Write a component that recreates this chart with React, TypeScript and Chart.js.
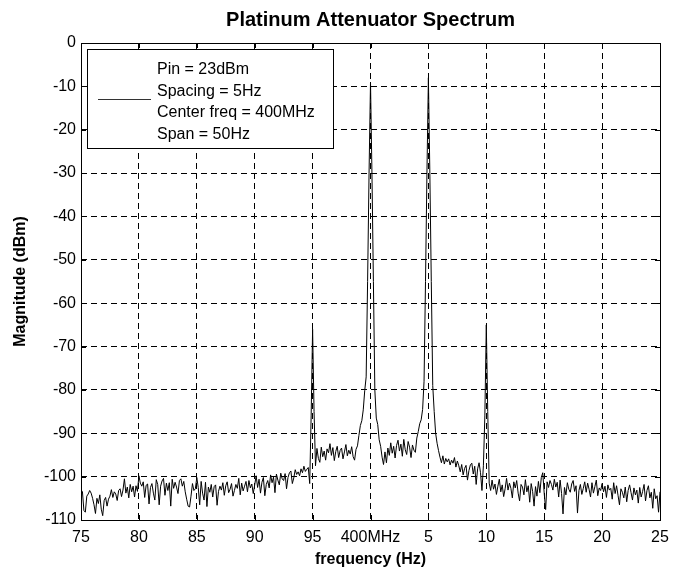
import React, { useEffect, useRef } from "react";
import { Chart, registerables } from "chart.js";

Chart.register(...registerables);

const chartTitle = "Platinum Attenuator Spectrum";
const xAxisTitle = "frequency (Hz)";
const yAxisTitle = "Magnitude (dBm)";
const legendLines = ["Pin = 23dBm", "Spacing = 5Hz", "Center freq = 400MHz", "Span = 50Hz"];

// Frequency offset ticks (Hz relative to 400 MHz) and their printed labels
const xTickValues = [-25, -20, -15, -10, -5, 0, 5, 10, 15, 20, 25];
const xTickLabels = ["75", "80", "85", "90", "95", "400MHz", "5", "10", "15", "20", "25"];
const yTickValues = [0, -10, -20, -30, -40, -50, -60, -70, -80, -90, -100, -110];

// Spectrum analyser bins: start offset and bin spacing (Hz)
const freqStart = -25;
const freqStep = 0.125;

// Magnitude (dBm) per bin (401 bins, -25 .. +25 Hz)
const magnitudeDbm = [
  -103, -103.5, -107.8, -108.2, -104.5, -104, -103.2, -103.8, -105, -106.5, -108.5, -105, -106.2, -104.2, -107.5, -109, -105.5, -104.8, -106.8, -105.2,
  -104.5, -103, -104.8, -103.5, -104, -105.5, -103.2, -102.8, -104.6, -103.1, -100.5, -103.8, -102.4, -104.9, -101.8, -103.5, -102.2, -104.7, -102.1, -103.4,
  -99.8, -101.5, -102.2, -101.2, -104.8, -102, -101.7, -106.3, -102.5, -101.6, -103.8, -105.4, -100.7, -101.8, -106.5, -102.2, -101, -100.4, -104.3, -101.5,
  -103.2, -101.4, -106.8, -100.6, -102.7, -101.3, -102.4, -103.9, -100.9, -100.5, -102.2, -101.1, -103.5, -105.2, -106.8, -107, -104.5, -101.6, -103.2, -102.8,
  -100.2, -102.5, -106.5, -101.1, -103.8, -105.4, -101.3, -106.9, -102.4, -103.6, -101.8, -104.7, -102.3, -101.9, -106.6, -103.4, -102.2, -103.1, -101.4, -104.3,
  -102.1, -101.2, -103.7, -102.9, -101.6, -104.5, -103.2, -101.8, -102.7, -100.4, -104.2, -101.5, -103.3, -102.2, -101.1, -103.5, -100.9, -102.6, -101.7, -103.9,
  -101.9, -99.8, -102.5, -100.6, -103.8, -101.3, -100.2, -104.4, -101.8, -100.9, -102.6, -99.6, -101.4, -100.1, -103.7, -99.4, -100.8, -101.9, -99.2, -100.5,
  -100.9, -99.3, -102.8, -100.2, -99.1, -98.7, -101.6, -100.3, -98.4, -99.5, -98.9, -99.8, -98.2, -99.1, -97.6, -98.8, -98.3, -97.9, -101.6, -86,
  -66, -85, -97.5, -93.5, -95.8, -96.7, -93.2, -95.4, -94.1, -96.2, -93.6, -94.5, -92.4, -95.1, -93.3, -96.3, -94.2, -93.0, -95.6, -94.0,
  -93.4, -95.9, -94.3, -92.6, -95.2, -93.9, -94.8, -93.1, -95.4, -96.2, -93.7, -92.9, -90.5, -88.2, -87.1, -84.6, -80.2, -77, -55, -30,
  -9, -30, -55, -80, -86.5, -88, -91.5, -93, -95.5, -97.2, -94.3, -96.8, -93.4, -95.1, -92.2, -94.6, -93, -95.7, -92.8, -91.6,
  -94.1, -92.5, -95.3, -91.4, -93.8, -94.9, -91.9, -93.2, -95.6, -92.7, -93.9, -94.4, -91.1, -89.6, -87.8, -86.9, -84.5, -78, -55, -30,
  -8, -30, -55, -79, -85, -90, -92.3, -94, -95.5, -96.8, -95.2, -97.1, -95.8, -96.6, -95.9, -97.3, -96.2, -96.9, -95.6, -97.8,
  -96.4, -97.5, -98.9, -97.2, -99.6, -98.1, -97.4, -100.8, -98.6, -97.3, -96.9, -99.4, -97.6, -101.8, -98.2, -96.8, -99.1, -103.2, -97.5, -86,
  -65, -85, -101.5, -103.2, -100.8, -102.9, -101.7, -104.1, -102.2, -100.6, -103.5, -101.9, -104.6, -102.8, -100.4, -103.1, -101.5, -102.7, -104.9, -101.2,
  -102.6, -100.9, -103.8, -105.6, -101.8, -102.4, -104.2, -100.7, -103.5, -102.1, -105.9, -101.6, -103.4, -106.8, -102.3, -104.5, -101.1, -103.7, -100.2, -99.1,
  -103.8, -107.6, -101.2, -102.5, -100.9, -101.8, -103.1, -100.6, -102.4, -101.3, -104.7, -100.8, -103.9, -108.6, -102.5, -104.2, -101.4, -102.9, -103.6, -101.7,
  -100.9, -103.4, -102.1, -108.4, -103.2, -101.8, -104.1, -102.7, -101.2, -103.6, -101.5, -102.9, -104.7, -101.4, -103.8, -102.3, -100.8, -104.4, -102.6, -103.2,
  -101.6, -103.5, -102.2, -104.8, -101.9, -103.1, -102.7, -105.2, -101.4, -103.9, -102.1, -104.3, -106.5, -102.8, -103.6, -104.9, -102.4, -105.8, -103.2, -101.9,
  -103.7, -105.4, -102.6, -104.2, -103.1, -106.1, -102.5, -104.7, -103.4, -101.8, -105.6, -103.2, -102.1, -104.9, -103.6, -107.3, -102.8, -105.1, -104.4, -108.2,
  -103.5,
];

const FONT = "'Liberation Sans', Arial, Helvetica, sans-serif";

const decorPlugin = {
  id: "decor",
  afterDraw(chart: any) {
    const { ctx, chartArea } = chart;
    const { left, right, top, bottom } = chartArea;
    const xs = chart.scales.x;
    const ys = chart.scales.y;
    ctx.save();
    // axes box
    ctx.strokeStyle = "#000";
    ctx.lineWidth = 1;
    ctx.setLineDash([]);
    ctx.strokeRect(Math.round(left) + 0.5, Math.round(top) + 0.5, Math.round(right - left), Math.round(bottom - top));
    // inside tick marks
    ctx.beginPath();
    xTickValues.forEach((v) => {
      const px = Math.round(xs.getPixelForValue(v)) + 0.5;
      ctx.moveTo(px, top);
      ctx.lineTo(px, top + 5);
      ctx.moveTo(px, bottom);
      ctx.lineTo(px, bottom - 5);
    });
    yTickValues.forEach((v) => {
      const py = Math.round(ys.getPixelForValue(v)) + 0.5;
      ctx.moveTo(left, py);
      ctx.lineTo(left + 5, py);
      ctx.moveTo(right, py);
      ctx.lineTo(right - 5, py);
    });
    ctx.stroke();

    // legend box
    const lx = 87.5, ly = 49.5, lw = 246, lh = 99;
    ctx.fillStyle = "#fff";
    ctx.fillRect(lx, ly, lw, lh);
    ctx.strokeRect(lx, ly, lw, lh);
    ctx.beginPath();
    ctx.strokeStyle = "#333";
    ctx.moveTo(98, 99.5);
    ctx.lineTo(151, 99.5);
    ctx.stroke();
    ctx.fillStyle = "#000";
    ctx.font = `16px ${FONT}`;
    ctx.textAlign = "left";
    ctx.textBaseline = "alphabetic";
    legendLines.forEach((t, i) => {
      ctx.fillText(t, 157, 74 + i * 21.7);
    });

    // titles
    ctx.textAlign = "center";
    ctx.textBaseline = "middle";
    ctx.font = `bold 20px ${FONT}`;
    ctx.fillText(chartTitle, (left + right) / 2, 20);
    ctx.font = `bold 16px ${FONT}`;
    ctx.fillText(xAxisTitle, (left + right) / 2, 560);
    ctx.translate(21, (top + bottom) / 2);
    ctx.rotate(-Math.PI / 2);
    ctx.fillText(yAxisTitle, 0, 0);
    ctx.restore();
  },
};

export default function App() {
  const canvasRef = useRef<HTMLCanvasElement | null>(null);

  useEffect(() => {
    if (!canvasRef.current) return;
    const points = magnitudeDbm.map((y, i) => ({ x: freqStart + i * freqStep, y }));
    const chart = new Chart(canvasRef.current, {
      type: "line",
      data: {
        datasets: [
          {
            data: points,
            borderColor: "#000",
            borderWidth: 1,
            pointRadius: 0,
            tension: 0,
            fill: false,
          },
        ],
      },
      options: {
        responsive: false,
        animation: false,
        devicePixelRatio: 1,
        parsing: false,
        layout: { padding: { top: 43, right: 20, left: 0, bottom: 0 } },
        plugins: {
          legend: { display: false },
          title: { display: false },
          tooltip: { enabled: false },
        },
        scales: {
          x: {
            type: "linear",
            min: -25,
            max: 25,
            afterBuildTicks: (s: any) => {
              s.ticks = xTickValues.map((v) => ({ value: v }));
            },
            afterFit: (s: any) => {
              s.height = 52;
            },
            ticks: {
              autoSkip: false,
              maxRotation: 0,
              minRotation: 0,
              padding: 8,
              color: "#000",
              font: { family: FONT, size: 16 },
              callback: (v: any) => {
                const idx = xTickValues.indexOf(Number(v));
                return idx >= 0 ? xTickLabels[idx] : "";
              },
            },
            grid: { color: "#000", lineWidth: 1, drawTicks: false },
            border: { display: false, dash: [6, 4] },
          },
          y: {
            type: "linear",
            min: -110,
            max: 0,
            afterBuildTicks: (s: any) => {
              s.ticks = yTickValues.map((v) => ({ value: v }));
            },
            afterFit: (s: any) => {
              s.width = 81;
            },
            ticks: {
              autoSkip: false,
              padding: 5,
              color: "#000",
              font: { family: FONT, size: 16 },
            },
            grid: { color: "#000", lineWidth: 1, drawTicks: false },
            border: { display: false, dash: [6, 4] },
          },
        },
      },
      plugins: [decorPlugin],
    });
    return () => chart.destroy();
  }, []);

  return (
    <div style={{ position: "fixed", left: 0, top: 0, width: 680, height: 572, background: "#fff" }}>
      <canvas ref={canvasRef} width={680} height={572} style={{ width: 680, height: 572 }} />
    </div>
  );
}
